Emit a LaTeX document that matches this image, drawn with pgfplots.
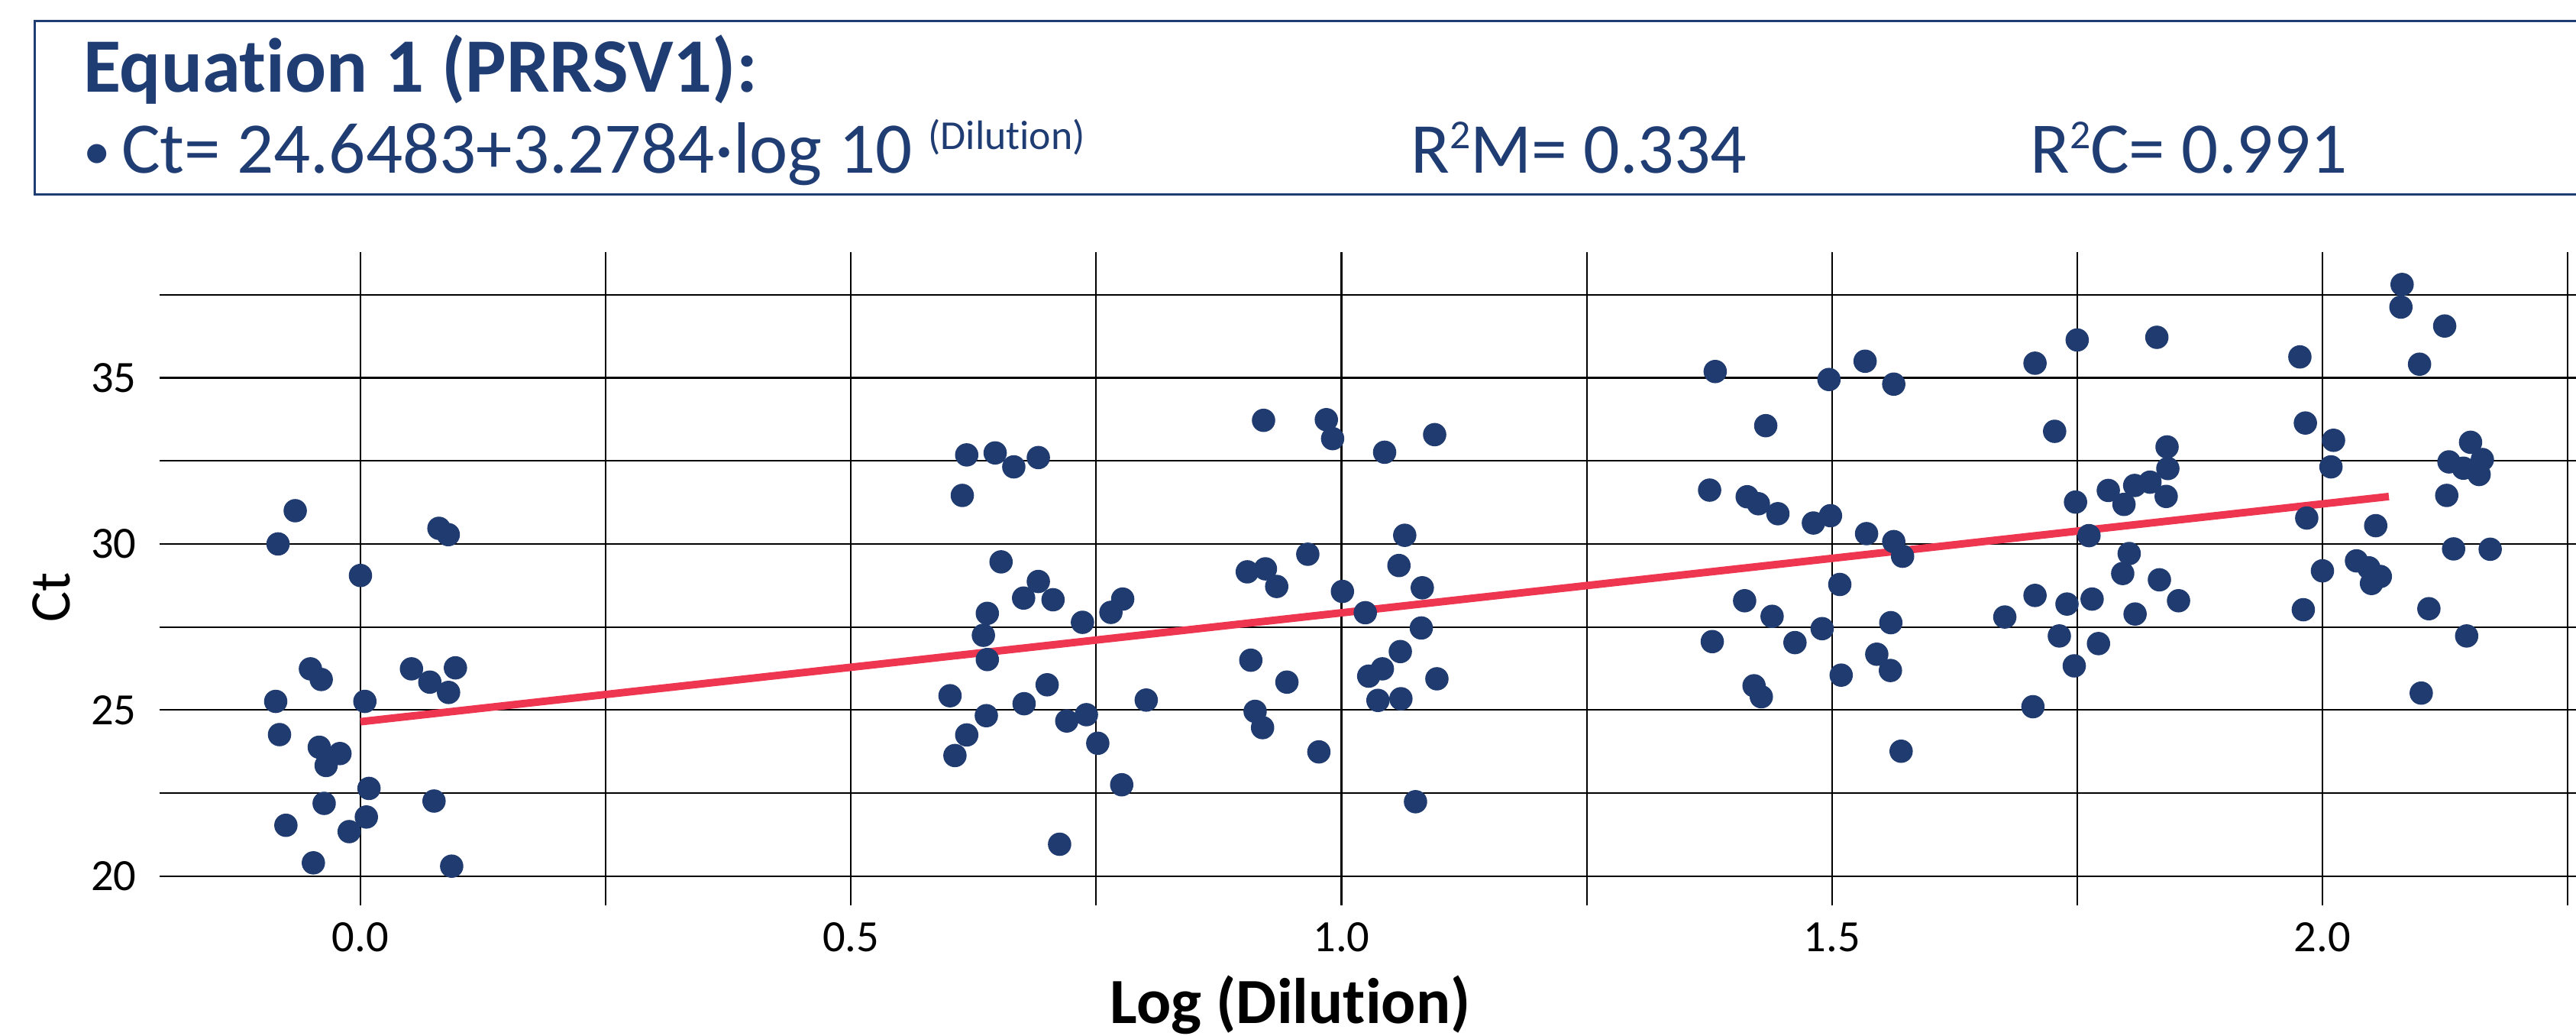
\documentclass[border=0pt]{standalone}
\usepackage{fontspec}
\setmainfont{Carlito}[Ligatures={NoCommon}]
\usepackage{pgfplots}
\pgfplotsset{compat=1.18}
\definecolor{navy}{HTML}{1F3C73}
\definecolor{dotblue}{HTML}{1F3B70}
\definecolor{fitred}{HTML}{EF3650}

\begin{document}
\begin{tikzpicture}
\begin{axis}[
  at={(0pt,0pt)}, anchor=south west,
  scale only axis, width=735.5pt, height=198.75pt,
  xmin=-0.205, xmax=2.2585, ymin=19.114, ymax=38.78,
  xtick={0,0.5,1,1.5,2}, xticklabels={0.0,0.5,1.0,1.5,2.0},
  minor xtick={0.25,0.75,1.25,1.75,2.25},
  ytick={20,25,30,35}, yticklabels={20,25,30,35},
  minor ytick={22.5,27.5,32.5,37.5},
  grid=both,
  major grid style={black, line width=0.5pt},
  minor grid style={black, line width=0.5pt},
  axis line style={draw=none},
  major tick length=0pt, minor tick length=0pt,
  tick style={draw=none},
  ticklabel style={font=\fontsize{13.6}{13.6}\selectfont, text=black},
  yticklabel style={anchor=east, inner sep=0pt, xshift=-6.8pt},
  xticklabel style={anchor=north, inner sep=0pt, yshift=-5pt},
]
\addplot[only marks, mark=*, mark size=3.35pt, color=dotblue, mark options={draw=dotblue, fill=dotblue}] coordinates {
(-0.0665,31.00) (-0.084,30.00) (0.000,29.05) (0.080,30.47) (0.0895,30.28)
(-0.051,26.24) (-0.040,25.92) (-0.0864,25.26) (0.0045,25.26) (0.052,26.24)
(0.0707,25.84) (0.0898,25.53) (0.0968,26.27) (-0.0825,24.26) (-0.042,23.88)
(-0.0209,23.69) (-0.035,23.33) (0.0087,22.64) (-0.037,22.19) (0.075,22.26)
(-0.076,21.53) (0.006,21.78) (-0.0115,21.34) (-0.048,20.40) (0.093,20.30)
(-0.081,19.07)
(0.618,32.68) (0.647,32.74) (0.666,32.32) (0.691,32.60) (0.6135,31.46)
(0.653,29.46) (0.691,28.87) (0.676,28.37) (0.706,28.32) (0.639,27.91)
(0.635,27.25) (0.639,26.52) (0.736,27.64) (0.765,27.94) (0.777,28.34)
(0.601,25.43) (0.700,25.76) (0.6765,25.19) (0.638,24.83) (0.740,24.86)
(0.720,24.67) (0.618,24.25) (0.606,23.63) (0.7516,24.00) (0.776,22.75)
(0.7127,20.96) (0.801,25.30)
(0.9206,33.72) (0.9846,33.74) (0.991,33.17) (1.044,32.76) (1.095,33.29)
(0.9657,29.69) (0.904,29.16) (0.9225,29.25) (0.934,28.72) (1.001,28.57)
(1.0645,30.26) (1.0586,29.35) (1.0824,28.68) (1.0243,27.93) (1.0814,27.47)
(0.9076,26.50) (0.9444,25.84) (1.060,26.76) (1.0278,26.02) (1.0417,26.24)
(1.0973,25.94) (0.912,24.96) (0.9196,24.47) (1.0372,25.29) (1.0606,25.34)
(0.977,23.74) (1.0755,22.24)
(1.381,35.19) (1.497,34.95) (1.5338,35.50) (1.563,34.81) (1.4325,33.56)
(1.3753,31.62) (1.4136,31.42) (1.425,31.21) (1.4449,30.91) (1.4811,30.63)
(1.4985,30.85) (1.5353,30.31) (1.563,30.07) (1.572,29.63) (1.508,28.78)
(1.411,28.29) (1.439,27.82) (1.490,27.45) (1.560,27.63) (1.378,27.06)
(1.4623,27.03) (1.5457,26.68) (1.4206,25.73) (1.428,25.40) (1.5094,26.05)
(1.5596,26.19) (1.5705,23.76)
(1.707,35.44) (1.750,36.14) (1.8312,36.22) (1.727,33.39) (1.8416,32.92)
(1.8424,32.27) (1.7817,31.61) (1.8086,31.76) (1.8242,31.86) (1.8407,31.43)
(1.7977,31.19) (1.7483,31.26) (1.762,30.25) (1.803,29.71) (1.7964,29.11)
(1.8338,28.92) (1.8533,28.29) (1.707,28.45) (1.7396,28.19) (1.7652,28.34)
(1.809,27.89) (1.6762,27.80) (1.7318,27.23) (1.7717,27.00) (1.747,26.33)
(1.7049,25.10)
(1.977,35.63) (2.0812,37.81) (2.080,37.13) (2.1246,36.56) (2.099,35.41)
(1.9826,33.64) (2.0113,33.12) (2.0087,32.32) (2.151,33.06) (2.129,32.47)
(2.1437,32.28) (2.163,32.54) (2.1597,32.09) (2.1267,31.46) (1.984,30.78)
(2.0543,30.55) (2.000,29.19) (2.0347,29.49) (2.0473,29.28) (2.059,29.02)
(2.050,28.81) (2.1337,29.85) (2.171,29.84) (1.9805,28.02) (2.1085,28.05)
(2.147,27.23) (2.1007,25.51)
};
\addplot[color=fitred, line width=2.3pt] coordinates {(0,24.6483) (2.0677,31.4270)};
\end{axis}
% header box
\draw[navy, line width=0.6pt] (745pt,269.15pt) -- (-37.9pt,269.15pt) -- (-37.9pt,216.4pt) -- (745pt,216.4pt);
\node[anchor=base west, inner sep=0pt, text=navy, font=\fontsize{23.4}{23.4}\selectfont\bfseries] at (-23.3pt,247.6pt) {Equation 1 (PRRSV1):};
\node[anchor=base west, inner sep=0pt, text=navy, font=\fontsize{22.1}{22.1}\selectfont] at (-23.3pt,222.8pt) {\makebox[11.6pt][l]{\fontsize{16.5}{16.5}\selectfont\raisebox{1.2pt}{•}}Ct= 24.6483+3.2784·log 10};
\node[anchor=base west, inner sep=0pt, text=navy, font=\fontsize{12.5}{12.5}\selectfont] at (233.8pt,230.15pt) {(Dilution)};
\node[anchor=base west, inner sep=0pt, text=navy, font=\fontsize{21.8}{21.8}\selectfont] at (380.65pt,222.8pt) {R\raisebox{7.4pt}{\fontsize{12.5}{12.5}\selectfont 2}M= 0.334};
\node[anchor=base west, inner sep=0pt, text=navy, font=\fontsize{22.1}{22.1}\selectfont] at (569.2pt,222.8pt) {R\raisebox{7.4pt}{\fontsize{12.5}{12.5}\selectfont 2}C= 0.991};
% axis labels
\node[rotate=90, anchor=base, inner sep=0pt, font=\fontsize{17.5}{17.5}\selectfont] at (-27.2pt,93.75pt) {Ct};
\node[anchor=base, inner sep=0pt, font=\fontsize{19.6}{19.6}\selectfont\bfseries] at (344.25pt,-35.75pt) {Log (Dilution)};
\pgfresetboundingbox
\useasboundingbox (-48.5pt,-39.5pt) rectangle (735.5pt,275.5pt);
\end{tikzpicture}
\end{document}
